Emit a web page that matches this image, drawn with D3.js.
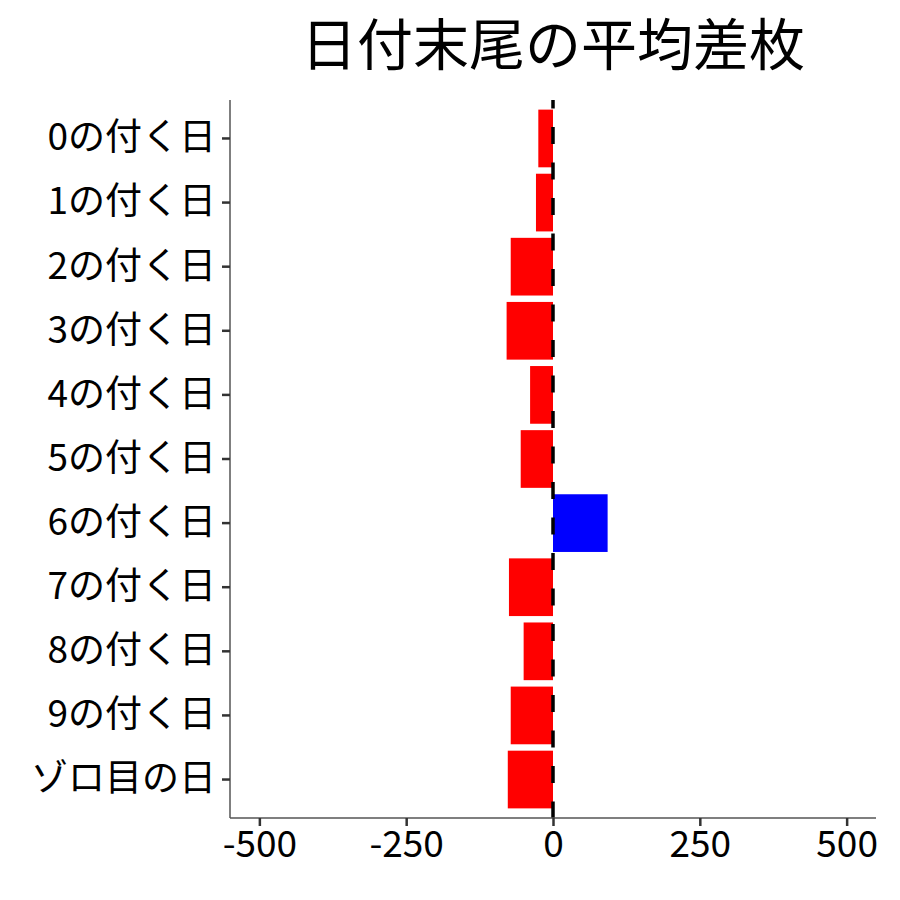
<!DOCTYPE html>
<html><head><meta charset="utf-8">
<script src="https://cdn.jsdelivr.net/npm/d3@7"></script>
<style>body{margin:0;background:#fff}svg{display:block}text{font-family:"Noto Sans CJK JP","Noto Sans",sans-serif}</style>
</head><body>
<script>
const categories = ["0の付く日","1の付く日","2の付く日","3の付く日","4の付く日","5の付く日","6の付く日","7の付く日","8の付く日","9の付く日","ゾロ目の日"];
const values = [-25, -29, -72, -79, -39, -55, 93, -75, -50, -72, -77];
const xTicks = [-500, -250, 0, 250, 500];
const title = "日付末尾の平均差枚";

const W = 900, H = 900;
const m = {left: 230, right: 24, top: 100, bottom: 82};
const svg = d3.select("body").append("svg").attr("width", W).attr("height", H);

const x = d3.scaleLinear().domain([-550, 550]).range([m.left, W - m.right]);
const y = d3.scaleBand().domain(categories).range([m.top, H - m.bottom]).paddingInner(0.1).paddingOuter(0.15);

svg.append("g").selectAll("rect").data(categories).join("rect")
  .attr("x", (d,i) => x(Math.min(0, values[i])))
  .attr("width", (d,i) => Math.abs(x(values[i]) - x(0)))
  .attr("y", d => y(d))
  .attr("height", y.bandwidth())
  .attr("fill", (d,i) => values[i] >= 0 ? "#0000ff" : "#ff0000");

svg.append("line")
  .attr("x1", x(0)).attr("x2", x(0))
  .attr("y1", m.top).attr("y2", H - m.bottom)
  .attr("stroke", "#000").attr("stroke-width", 3.5)
  .attr("stroke-dasharray", "17,18.5").attr("stroke-dashoffset", 8.5);

const xa = svg.append("g").attr("transform", `translate(0,${H - m.bottom})`)
  .call(d3.axisBottom(x).tickValues(xTicks).tickSize(8).tickPadding(5).tickFormat(d3.format("d")));
xa.select(".domain").attr("stroke", "#555").attr("stroke-width", 1.5).attr("d", `M${m.left},0H${W - m.right}`);
xa.selectAll(".tick line").attr("stroke", "#333").attr("stroke-width", 2.5);
xa.selectAll(".tick text").attr("fill", "#000").attr("font-size", 37).text(d => d < 0 ? "-" + Math.abs(d) : d);

const ya = svg.append("g").attr("transform", `translate(${m.left},0)`)
  .call(d3.axisLeft(y).tickSize(8).tickPadding(6));
ya.select(".domain").attr("stroke", "#555").attr("stroke-width", 1.5).attr("d", `M0,${m.top}V${H - m.bottom}`);
ya.selectAll(".tick line").attr("stroke", "#333").attr("stroke-width", 2.5);
ya.selectAll(".tick text").attr("fill", "#000").attr("font-size", 37);

svg.append("text").attr("x", x(0)).attr("y", 65).attr("text-anchor", "middle")
  .attr("font-size", 56).attr("fill", "#000").text(title);
</script>
</body></html>
